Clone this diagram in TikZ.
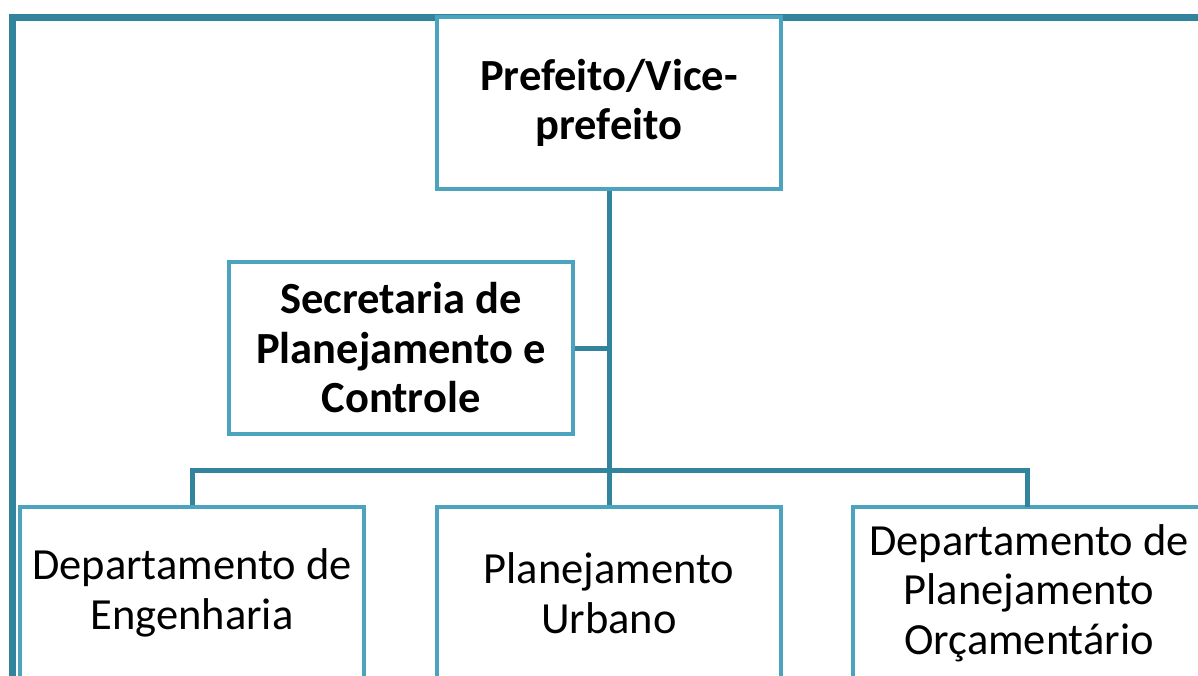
\documentclass[tikz,border=0pt]{standalone}
\usepackage{fontspec}
\setmainfont{Carlito}
\usetikzlibrary{positioning}
\definecolor{framecol}{HTML}{31849B}
\definecolor{boxcol}{HTML}{4BA3BD}

\begin{document}
\begin{tikzpicture}[x=1pt, y=-1pt,
        unit/.style={draw=boxcol, line width=4pt, fill=white, minimum width=344pt, minimum height=172pt,
            inner sep=0pt, align=center, font=\fontsize{44.5}{49.5}\selectfont},
        chief/.style={unit, font=\fontsize{44.5}{49.5}\selectfont\bfseries},
        link/.style={draw=framecol, line width=5pt}]
        \useasboundingbox (0,0) rectangle (1198,675);
        \clip (0,0) rectangle (1198,675);

        % Outer frame
        \draw[framecol, line width=7pt] (12,17) rectangle (1230,720);

        % Top level
        \node[chief] (pref) at (609,103) {Prefeito/Vice-\\prefeito};

        % Staff unit
        \node[chief] (sec) at (401,348) {Secretaria de\\Planejamento e\\Controle};

        % Departments
        \node[unit] (eng) at (192,593) {Departamento de\\Engenharia};
        \node[unit] (urb) at (609,593) {Planejamento\\Urbano};
        \node[unit, minimum width=352pt] (orc) at (1029,593) {Departamento de\\Planejamento\\Orçamentário};

        % Connectors
        \coordinate (bus) at (609,470);
        \coordinate (drop) at (1027,507);
        \draw[link] (pref.south) -- (urb.north);
        \draw[link] (sec.east) -- (sec.east -| pref.south);
        \draw[link] (eng.north) |- (bus) -| (drop);

    \end{tikzpicture}
\end{document}
